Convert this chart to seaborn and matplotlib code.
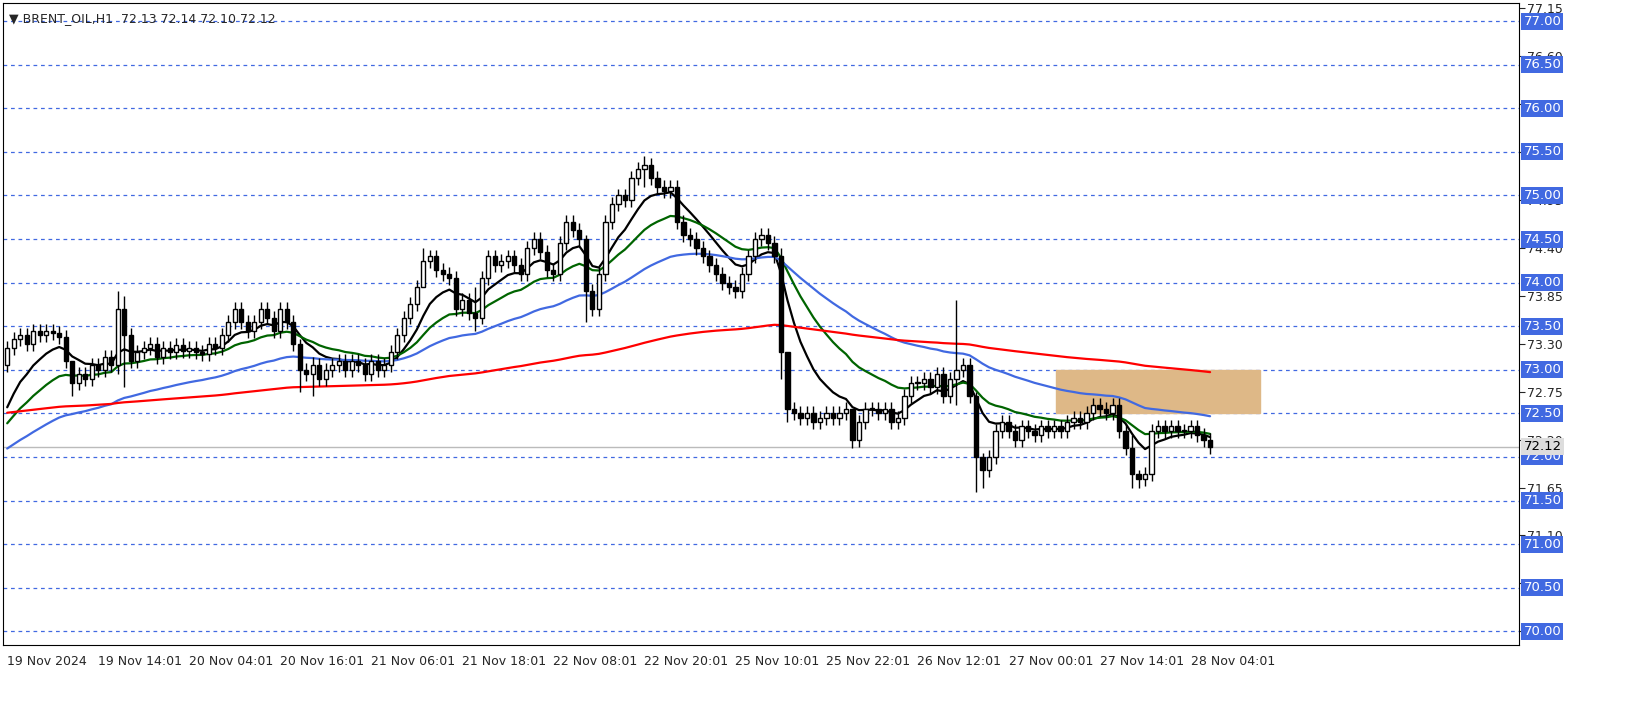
import numpy as np
import pandas as pd
import seaborn as sns
import matplotlib.pyplot as plt
from matplotlib.patches import Rectangle

# hourly closes
closes = [
    73.25, 73.35, 73.40, 73.30, 73.45, 73.40, 73.45, 73.42, 73.38, 73.10,
    72.85, 72.95, 72.90, 73.05, 73.00, 73.15, 73.05, 73.70, 73.40, 73.10,
    73.20, 73.25, 73.30, 73.15, 73.25, 73.20, 73.28, 73.22, 73.25, 73.20,
    73.18, 73.30, 73.25, 73.40, 73.55, 73.70, 73.55, 73.45, 73.55, 73.70,
    73.60, 73.45, 73.70, 73.55, 73.30, 73.00, 72.95, 73.05, 72.90, 73.00,
    73.05, 73.10, 73.00, 73.10, 73.05, 72.95, 73.10, 73.00, 73.05, 73.20,
    73.40, 73.60, 73.75, 73.95, 74.25, 74.30, 74.15, 74.10, 74.05, 73.70,
    73.80, 73.65, 73.60, 74.05, 74.30, 74.20, 74.25, 74.30, 74.20, 74.10,
    74.40, 74.50, 74.35, 74.15, 74.10, 74.45, 74.70, 74.60, 74.50, 73.90,
    73.70, 74.10, 74.70, 74.90, 75.00, 74.95, 75.20, 75.30, 75.35, 75.20,
    75.10, 75.05, 75.10, 74.70, 74.55, 74.50, 74.40, 74.30, 74.20, 74.10,
    74.00, 73.95, 73.90, 74.10, 74.30, 74.50, 74.55, 74.45, 74.30, 73.20,
    72.55, 72.50, 72.45, 72.50, 72.40, 72.45, 72.50, 72.45, 72.50, 72.55,
    72.20, 72.40, 72.55, 72.55, 72.50, 72.55, 72.40, 72.45, 72.70, 72.85,
    72.85, 72.90, 72.80, 72.95, 72.70, 72.90, 73.00, 73.05, 72.70, 72.00,
    71.85, 72.00, 72.30, 72.40, 72.30, 72.20, 72.35, 72.30, 72.25, 72.35,
    72.30, 72.35, 72.30, 72.40, 72.45, 72.40, 72.50, 72.60, 72.55, 72.50,
    72.60, 72.30, 72.10, 71.80, 71.75, 71.80, 72.30, 72.35, 72.30, 72.35,
    72.30, 72.30, 72.35, 72.25, 72.20, 72.12,
]
first_open = 73.05
# extra-long wicks: bar -> (high, low)
wick_overrides = {
    17: (73.90, 72.95), 18: (73.85, 72.80), 10: (73.05, 72.70), 45: (73.35, 72.75),
    47: (73.15, 72.70), 64: (74.40, 74.00), 72: (73.95, 73.45), 89: (74.55, 73.55),
    98: (75.45, 75.10), 119: (74.40, 72.90), 120: (73.20, 72.40), 130: (72.50, 72.10),
    146: (73.80, 72.60), 149: (72.75, 71.60), 150: (72.05, 71.65), 173: (72.25, 71.65),
    174: (71.85, 71.65),
}
x_labels = ["19 Nov 2024", "19 Nov 14:01", "20 Nov 04:01", "20 Nov 16:01", "21 Nov 06:01",
            "21 Nov 18:01", "22 Nov 08:01", "22 Nov 20:01", "25 Nov 10:01", "25 Nov 22:01",
            "26 Nov 12:01", "27 Nov 00:01", "27 Nov 14:01", "28 Nov 04:01"]
ma_spans = [9, 21, 50, 200]
ma_seeds = [72.40, 72.30, 72.05, 72.50]
ma_colors = ["black", "#006400", "#4169e1", "red"]
zone = (161.3, 192.7, 72.5, 73.0)
last_price = 72.12

opens = [first_open] + closes[:-1]
highs, lows = [], []
for i, (o, c) in enumerate(zip(opens, closes)):
    h, l = wick_overrides.get(i, (max(o, c) + 0.08, min(o, c) - 0.08))
    highs.append(h)
    lows.append(l)
df = pd.DataFrame({"i": np.arange(len(closes)), "o": opens, "h": highs, "l": lows, "c": closes})

sns.set_style("white")
fig = plt.figure(figsize=(16.51, 7.06), dpi=100)
ax = fig.add_axes([0.002, 0.086, 0.918, 0.91])

ax.add_patch(Rectangle((zone[0], zone[2]), zone[1] - zone[0], zone[3] - zone[2],
                       color="#deb887", zorder=1))

for lvl in np.arange(70.0, 77.01, 0.5):
    ax.axhline(lvl, color="#4169e1", ls=(0, (3, 3)), lw=0.9, zorder=0)
ax.axhline(last_price, color="#bbbbbb", lw=1, zorder=0)

ax.vlines(df.i, df.l, df.h, color="black", lw=1, zorder=3)
body_lo = np.minimum(df.o, df.c)
body_h = np.maximum(np.abs(df.c - df.o), 0.015)
up = df.c >= df.o
ax.bar(df.i[up], body_h[up], bottom=body_lo[up], width=0.65, color="white",
       edgecolor="black", lw=1, zorder=4)
ax.bar(df.i[~up], body_h[~up], bottom=body_lo[~up], width=0.65, color="black",
       edgecolor="black", lw=1, zorder=4)

for span, seed, col in zip(ma_spans, ma_seeds, ma_colors):
    ema = pd.Series([seed] + closes).ewm(span=span, adjust=False).mean().iloc[1:].values
    sns.lineplot(x=df.i, y=ema, color=col, lw=1.6, ax=ax, zorder=2)

ax.set_xlim(-0.6, 232.5)
ax.set_ylim(69.84, 77.21)
ax.set_xticks(np.arange(len(x_labels)) * 14)
ax.set_xticklabels(x_labels, ha="left", fontsize=9)
ax.tick_params(axis="x", length=4, pad=3)
ax.yaxis.tick_right()
ax.set_yticks([77.15, 76.60, 76.05, 75.50, 74.95, 74.40, 73.85, 73.30, 72.75, 72.20,
               71.65, 71.10, 70.55, 70.00])
ax.yaxis.set_major_formatter(plt.FuncFormatter(lambda v, p: f"{v:.2f}"))
ax.tick_params(axis="y", length=4, labelsize=9, pad=2)
for s in ax.spines.values():
    s.set_color("black")
ax.set_xlabel("")
ax.set_ylabel("")

for lvl in np.arange(70.0, 77.01, 0.5):
    ax.text(1.003, lvl, f"{lvl:.2f}", transform=ax.get_yaxis_transform(), va="center",
            ha="left", fontsize=9.5, color="white",
            bbox=dict(boxstyle="square,pad=0.15", fc="#4169e1", ec="none"))
ax.text(1.003, last_price, f"{last_price:.2f}", transform=ax.get_yaxis_transform(),
        va="center", ha="left", fontsize=9.5, color="black",
        bbox=dict(boxstyle="square,pad=0.15", fc="#dddddd", ec="none"))

ax.text(0.004, 0.985, "\u25bc BRENT_OIL,H1  72.13 72.14 72.10 72.12", transform=ax.transAxes,
        va="top", ha="left", fontsize=9)

fig.savefig("out.png", dpi=100)
